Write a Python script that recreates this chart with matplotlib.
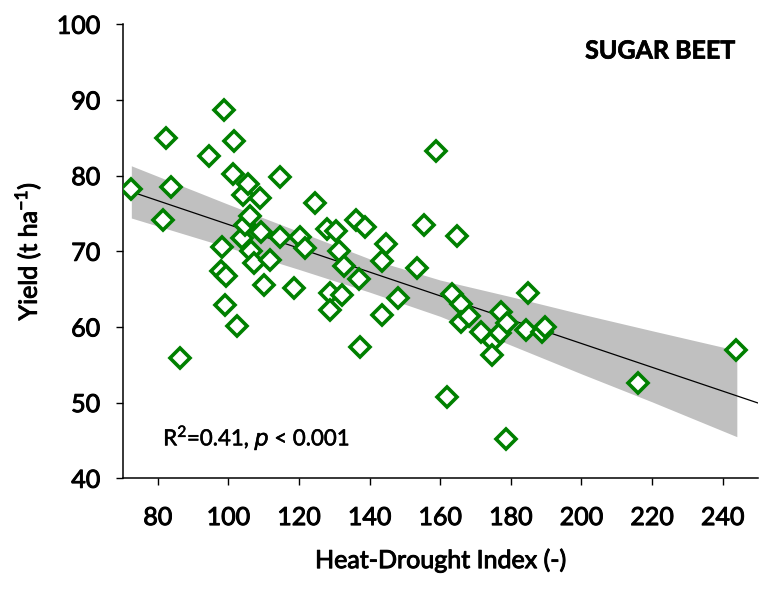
import matplotlib
matplotlib.use("Agg")
import matplotlib.pyplot as plt
import matplotlib.patheffects as pe
import numpy as np

plt.rcParams['font.family'] = ['Lato', 'DejaVu Sans']
plt.rcParams['axes.unicode_minus'] = False

# heat-drought index and sugar beet yield per site-year
hdi = [72.5, 81.5, 82.4, 83.6, 86.4, 94.5, 98.0, 99.2, 98.2, 98.7,
       98.9, 101.4, 101.7, 102.3, 104.2, 103.9, 104.6, 106.1, 105.5, 106.3,
       107.2, 108.9, 109.1, 110.0, 111.9, 114.6, 114.6, 118.5, 120.4, 121.6,
       124.4, 128.0, 128.9, 128.9, 130.6, 131.3, 132.2, 132.7, 136.0, 137.0,
       137.3, 138.8, 143.6, 143.6, 144.5, 148.0, 153.3, 155.4, 158.7, 161.8,
       163.4, 164.8, 166.0, 165.8, 168.1, 171.4, 175.0, 174.7, 176.9, 177.1,
       178.5, 179.0, 184.4, 184.8, 188.9, 189.8, 216.0, 243.7]
yield_t = [78.2, 74.2, 85.0, 78.5, 55.9, 82.6, 67.4, 66.8, 70.6, 88.7,
           62.9, 80.2, 84.6, 60.1, 77.4, 71.7, 73.5, 74.7, 78.9, 70.0,
           68.5, 77.0, 72.5, 65.5, 68.8, 79.8, 71.9, 65.2, 71.9, 70.4,
           76.4, 72.9, 64.5, 62.3, 72.7, 70.0, 64.2, 68.0, 74.2, 66.4,
           57.3, 73.2, 68.7, 61.6, 71.0, 63.8, 67.8, 73.5, 83.2, 50.8,
           64.4, 72.0, 63.0, 60.6, 61.4, 59.4, 58.1, 56.3, 59.2, 62.0,
           45.2, 60.5, 59.6, 64.5, 59.4, 60.0, 52.6, 57.0]

# fitted line and its confidence band
fit_x = [72.3, 250.0]
fit_y = [77.9, 49.95]
band_x = [72.5, 100, 120, 140, 160, 180, 200, 220, 244]
band_hi = [81.3, 76.2, 72.6, 69.0, 66.2, 64.0, 61.7, 59.5, 56.9]
band_lo = [74.4, 70.5, 67.6, 64.6, 61.4, 57.6, 53.8, 50.1, 45.5]

fig = plt.figure(figsize=(7.59, 5.91), dpi=100)
ax = fig.add_axes([0.1614, 0.1907, 0.8373, 0.7682])

ax.fill_between(band_x, band_lo, band_hi, color="#c0c0c0", lw=0, zorder=1)
ax.plot(fit_x, fit_y, color="black", lw=0.9, zorder=2)
ax.plot(hdi, yield_t, ls="none", marker="D", ms=10, mew=2.6,
        mfc="white", mec="#008000", zorder=3)

ax.set_xlim(70, 250)
ax.set_ylim(40, 100)
ax.set_xticks(np.arange(80, 241, 20))
ax.set_yticks(np.arange(40, 101, 10))

for s in ["top", "right"]:
    ax.spines[s].set_visible(False)
for s in ["left", "bottom"]:
    ax.spines[s].set_linewidth(1.1)

ax.tick_params(axis="both", direction="out", length=5, width=1,
               labelsize=18)
ax.tick_params(axis="x", pad=15)
ax.tick_params(axis="y", pad=11)

# thin outline gives the labels a semibold look
heavy = [pe.withStroke(linewidth=0.7, foreground="black")]
for lab in ax.get_xticklabels() + ax.get_yticklabels():
    lab.set_path_effects(heavy)

ax.set_xlabel("Heat-Drought Index (-)", fontsize=18, labelpad=14,
              path_effects=heavy)
ax.set_ylabel(r"Yield (t ha$^{\mathregular{-1}}$)", fontsize=18,
              labelpad=10, path_effects=heavy)

ax.text(0.964, 0.941, "SUGAR BEET", transform=ax.transAxes, ha="right",
        va="center", fontsize=18, fontweight="bold",
        path_effects=[pe.withStroke(linewidth=0.5, foreground="black")])
ax.text(0.064, 0.089, r"R$^{\mathregular{2}}$=0.41, $\mathit{p}$ < 0.001",
        transform=ax.transAxes, ha="left", va="center", fontsize=16,
        path_effects=[pe.withStroke(linewidth=0.4, foreground="black")])

fig.savefig("out.png", dpi=100)
